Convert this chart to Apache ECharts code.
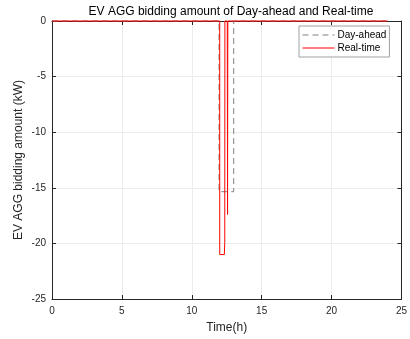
<!DOCTYPE html>
<html>
<head>
<meta charset="utf-8">
<script src="https://cdn.jsdelivr.net/npm/echarts@6/dist/echarts.min.js"></script>
<style>html,body{margin:0;padding:0;background:#fff}#c{width:410px;height:339px}</style>
</head>
<body>
<div id="c"></div>
<script>
const dayAheadTime  = [0, 11.95, 11.95, 13.0, 13.0, 24];
const dayAheadValue = [0, 0, -15.35, -15.35, 0, 0];
const realTimeTime  = [0, 12.0, 12.0, 12.33, 12.36, 12.37, 12.54, 12.56, 12.58, 24];
const realTimeValue = [0, 0, -21.0, -21.0, -19.9, 0, 0, -17.4, 0, 0];
const xTicks = [0, 5, 10, 15, 20, 25];
const yTicks = [0, -5, -10, -15, -20, -25];

const font = 'Liberation Sans, Arial, sans-serif';
const axisCol = '#262626';
const chart = echarts.init(document.getElementById('c'), null, {renderer: 'canvas'});
const pair = (xs, ys) => xs.map((x, i) => [x, ys[i]]);

const baseX = {
  type: 'value', min: xTicks[0], max: xTicks[xTicks.length - 1], interval: 5,
  axisLine: {show: true, onZero: false, lineStyle: {color: axisCol, width: 1}},
  axisTick: {show: true, inside: true, length: 4, lineStyle: {color: axisCol}},
  splitLine: {show: false}
};
const baseY = {
  type: 'value', min: yTicks[yTicks.length - 1], max: yTicks[0], interval: 5,
  axisLine: {show: true, onZero: false, lineStyle: {color: axisCol, width: 1}},
  axisTick: {show: true, inside: true, length: 4, lineStyle: {color: axisCol}},
  splitLine: {show: false}
};

chart.setOption({
  animation: false,
  backgroundColor: '#fff',
  title: {
    text: 'EV AGG bidding amount of Day-ahead and Real-time',
    left: 226, top: 1, textAlign: 'center',
    textStyle: {fontFamily: font, fontSize: 12, fontWeight: 'normal', color: '#000'}
  },
  grid: {left: 52, right: 7, top: 21, bottom: 40, show: false},
  legend: {
    orient: 'vertical', left: 299, top: 26,
    backgroundColor: '#fff', borderColor: '#a0a0a0', borderWidth: 1, borderRadius: 0,
    padding: [4, 3, 4, 3], itemGap: 3, itemWidth: 32, itemHeight: 8,
    itemStyle: {opacity: 0, borderWidth: 0},
    lineStyle: {width: 1},
    textStyle: {fontFamily: font, fontSize: 10, color: '#000', padding: [0, 0, 0, -2]},
    data: ['Day-ahead', 'Real-time']
  },
  xAxis: [
    Object.assign({}, baseX, {
      position: 'bottom',
      name: 'Time(h)', nameLocation: 'middle', nameGap: 23, nameMoveOverlap: false,
      nameTextStyle: {fontFamily: font, fontSize: 12, color: axisCol},
      axisLabel: {fontFamily: font, fontSize: 10, color: axisCol, margin: 7},
      splitLine: {show: true, lineStyle: {color: '#ececec', width: 1}}
    }),
    Object.assign({}, baseX, {position: 'top', axisLabel: {show: false}})
  ],
  yAxis: [
    Object.assign({}, baseY, {
      position: 'left',
      name: 'EV AGG bidding amount (kW)', nameLocation: 'middle', nameGap: 27, nameMoveOverlap: false,
      nameTextStyle: {fontFamily: font, fontSize: 12, color: axisCol},
      axisLabel: {fontFamily: font, fontSize: 10, color: axisCol, margin: 6},
      splitLine: {show: true, lineStyle: {color: '#ececec', width: 1}}
    }),
    Object.assign({}, baseY, {position: 'right', axisLabel: {show: false}})
  ],
  series: [
    {
      name: 'Day-ahead', type: 'line', data: pair(dayAheadTime, dayAheadValue),
      symbol: 'none', clip: false,
      lineStyle: {color: '#808080', width: 1, type: [6, 4]},
      itemStyle: {color: '#808080'}
    },
    {
      name: 'Real-time', type: 'line', data: pair(realTimeTime, realTimeValue),
      symbol: 'none', clip: false,
      lineStyle: {color: '#ff0000', width: 1},
      itemStyle: {color: '#ff0000'}
    }
  ]
});
</script>
</body>
</html>
